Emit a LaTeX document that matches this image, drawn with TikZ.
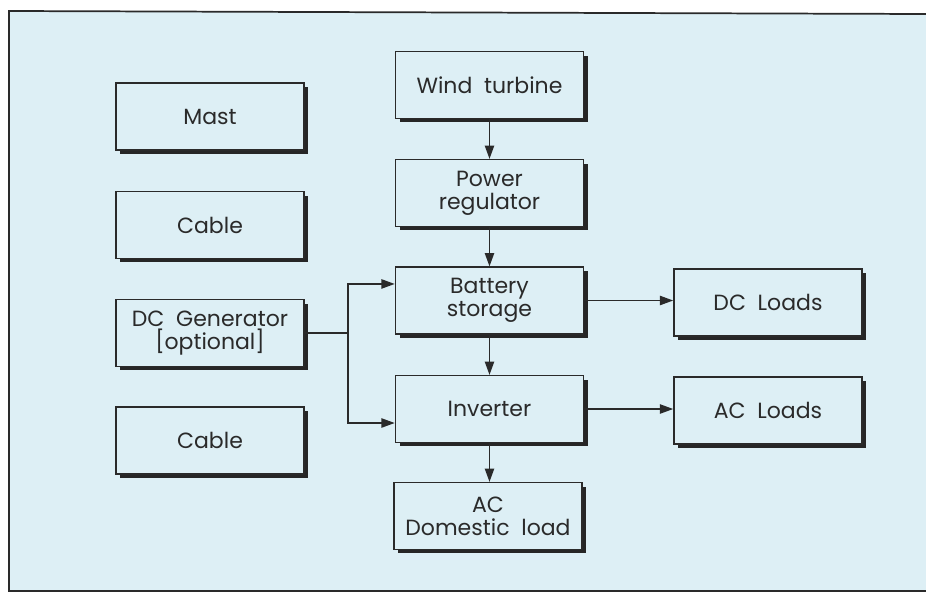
\documentclass[tikz,border=0pt]{standalone}
\usepackage{fontspec}
\setmainfont{Poppins}
\usetikzlibrary{shadows,arrows.meta,calc}
\definecolor{bg}{HTML}{DDEFF5}
\definecolor{ink}{HTML}{2A2A2A}
\begin{document}
\begin{tikzpicture}[x=0.75pt,y=-0.75pt,
  box/.style={draw=ink, line width=1.2pt, fill=bg, minimum width=141pt, minimum height=50pt,
    inner sep=0pt, align=center, text=ink, font=\fontsize{16.5}{17.5}\selectfont,
    drop shadow={shadow xshift=3pt, shadow yshift=-3pt, fill=black!85, opacity=1}},
  arr/.style={draw=ink, line width=1.1pt, -{Triangle[length=10pt,width=7pt]}},
  ln/.style={draw=ink, line width=1.1pt}]
\useasboundingbox (0,0) rectangle (926,593);
\fill[white] (0,0) rectangle (926,593);
\fill[bg] (9,11) -- (926,14) -- (926,591) -- (9,591) -- cycle;
\draw[ink, line width=1.3pt] (926,14) -- (9,11) -- (9,591) -- (926,591);

\node[box] (mast)   at (210,116.5) {Mast};
\node[box] (cable1) at (210,225)   {Cable};
\node[box] (dcgen)  at (210,333)   {DC\ \ Generator\\{[}optional{]}};
\node[box] (cable2) at (210,440.5) {Cable};

\node[box] (wind) at (489.5,85)    {Wind\ \ turbine};
\node[box] (reg)  at (489.5,193)   {Power\\regulator};
\node[box] (batt) at (489.5,300.5) {Battery\\storage};
\node[box] (inv)  at (489.5,409)   {Inverter};
\node[box] (acdom) at (488,516)    {AC\\Domestic\ \ load};

\node[box] (dcl) at (768,302.5) {DC\ \ Loads};
\node[box] (acl) at (768,410.5) {AC\ \ Loads};

\coordinate (j) at (348,333);
\draw[ln] (dcgen.east) -- (j);
\draw[arr] (j) |- ([yshift=12.4pt]batt.west);
\draw[arr] (j) |- ([yshift=-10.5pt]inv.west);

\draw[arr] (wind) -- (reg);
\draw[arr] (reg) -- (batt);
\draw[arr] (batt) -- (inv);
\draw[arr] (inv.south) -- (inv.south |- acdom.north);
\draw[arr] (batt.east) -- (batt.east -| dcl.west);
\draw[arr] (inv.east) -- (inv.east -| acl.west);
\end{tikzpicture}
\end{document}
